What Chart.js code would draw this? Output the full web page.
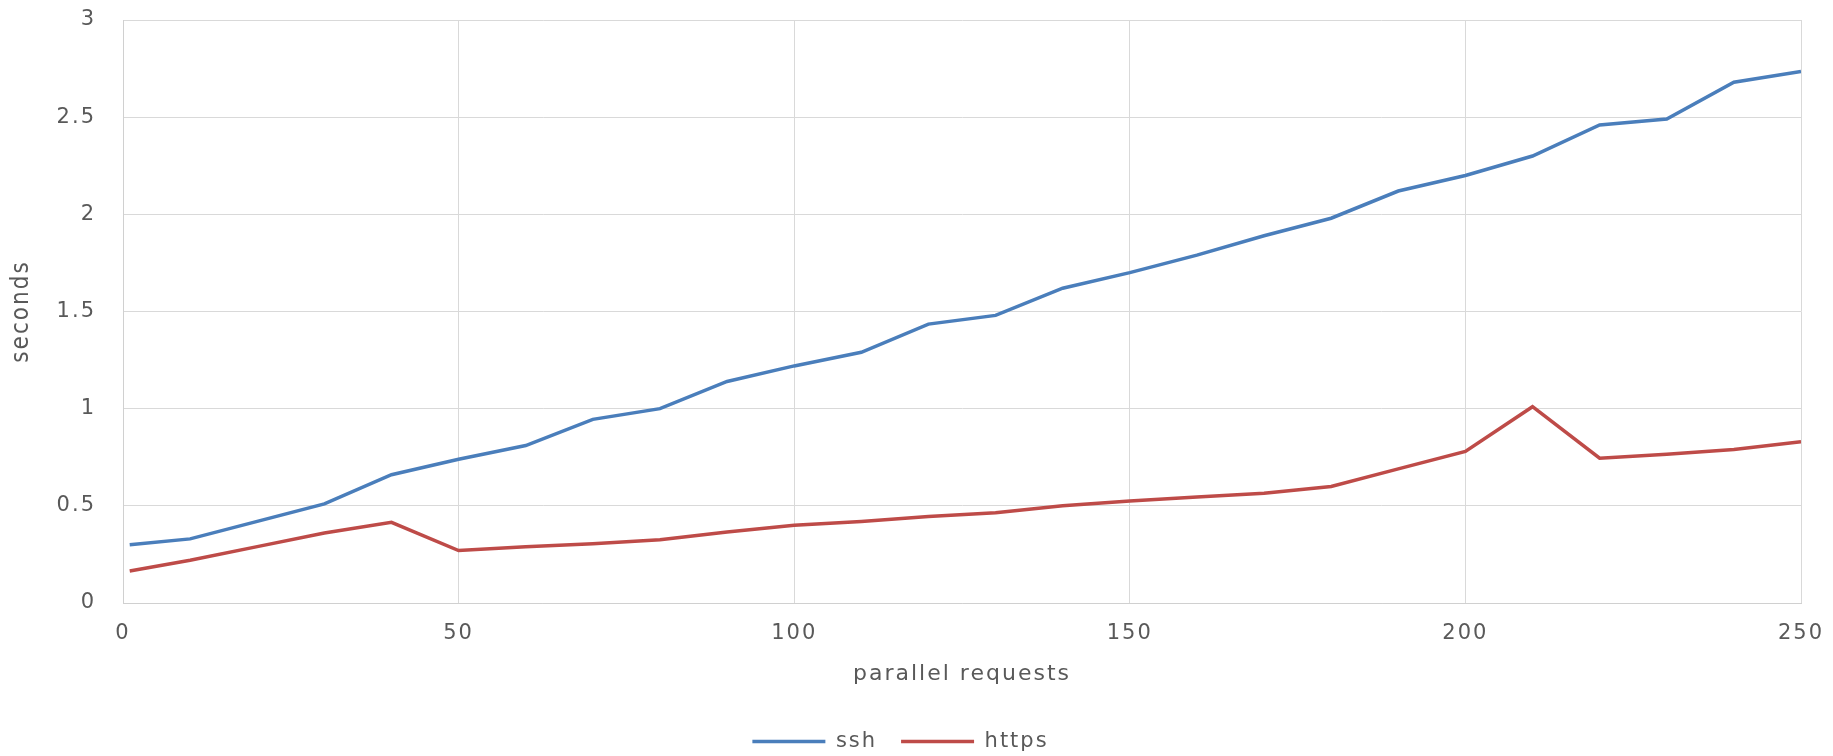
<!DOCTYPE html>
<html>
<head>
<meta charset="utf-8">
<script src="https://cdn.jsdelivr.net/npm/chart.js@4"></script>
<style>
  body { margin: 0; background: #fff; }
</style>
</head>
<body>
<canvas id="graficoTiempos" width="1833" height="756"></canvas>
<script>
const ctxTiempos = 'graficoTiempos';

var xValues = [1, 10, 20, 30, 40, 50, 60, 70, 80, 90, 100, 110, 120, 130, 140, 150, 160, 170, 180, 190, 200, 210, 220, 230, 240, 250];
var sshValues = [0.30, 0.33, 0.42, 0.51, 0.66, 0.74, 0.81, 0.945, 1.0, 1.14, 1.22, 1.29, 1.435, 1.48, 1.62, 1.70, 1.79, 1.89, 1.98, 2.12, 2.20, 2.30, 2.46, 2.49, 2.68, 2.735];
var httpsValues = [0.165, 0.22, 0.29, 0.36, 0.415, 0.27, 0.29, 0.305, 0.325, 0.365, 0.40, 0.42, 0.445, 0.465, 0.50, 0.525, 0.545, 0.565, 0.60, 0.69, 0.78, 1.01, 0.745, 0.765, 0.79, 0.83];
var seriesNames = ["ssh", "https"];

const gris = '#595959';

// the excel text is a bit wide, spread letters a little
const espaciado = {
    id: 'espaciado',
    beforeUpdate(chart) { chart.ctx.letterSpacing = '2px'; },
    beforeDraw(chart) { chart.ctx.letterSpacing = '2px'; }
};

const graficoTiempos = new Chart(ctxTiempos, {
    type: 'line',
    data: {
        datasets: [{
            label: seriesNames[0],
            data: xValues.map((x, i) => ({ x: x, y: sshValues[i] })),
            borderColor: '#4A7EBB',
            backgroundColor: '#4A7EBB',
            borderWidth: 3.5,
            pointRadius: 0,
            tension: 0
        }, {
            label: seriesNames[1],
            data: xValues.map((x, i) => ({ x: x, y: httpsValues[i] })),
            borderColor: '#BE4B48',
            backgroundColor: '#BE4B48',
            borderWidth: 3.5,
            pointRadius: 0,
            tension: 0
        }]
    },
    options: {
        responsive: false,
        animation: false,
        layout: {
            padding: { left: 0, right: 32, top: 20, bottom: -6 }
        },
        scales: {
            x: {
                type: 'linear',
                min: 0,
                max: 250,
                ticks: {
                    stepSize: 50,
                    padding: 18,
                    color: gris,
                    font: { family: 'DejaVu Sans', size: 21 }
                },
                grid: { color: '#D9D9D9', drawTicks: false },
                border: { color: '#D0D0D0' },
                title: {
                    display: true,
                    text: 'parallel requests',
                    color: gris,
                    font: { family: 'DejaVu Sans', size: 22 },
                    padding: { top: 0, bottom: 20 }
                },
                afterFit: function (scale) {
                    scale.height = 104;
                    scale.paddingLeft = 0;
                    scale.paddingRight = 0;
                }
            },
            y: {
                min: 0,
                max: 3,
                ticks: {
                    stepSize: 0.5,
                    padding: 27,
                    color: gris,
                    font: { family: 'DejaVu Sans', size: 21 },
                    callback: function (v) { return String(Number(v.toFixed(1))); }
                },
                grid: { color: '#D9D9D9', drawTicks: false },
                border: { color: '#D0D0D0' },
                title: {
                    display: true,
                    text: 'seconds',
                    color: gris,
                    font: { family: "'Liberation Sans Narrow', 'DejaVu Sans Condensed', 'DejaVu Sans'", size: 24 },
                    padding: { top: 7, bottom: 0 }
                },
                afterFit: function (scale) {
                    scale.width = 123;
                    scale.paddingTop = 0;
                    scale.paddingBottom = 0;
                }
            }
        },
        plugins: {
            legend: {
                position: 'bottom',
                labels: {
                    usePointStyle: true,
                    pointStyle: 'line',
                    pointStyleWidth: 73,
                    padding: 24,
                    color: gris,
                    font: { family: 'DejaVu Sans', size: 21 }
                }
            },
            tooltip: { enabled: false }
        }
    },
    plugins: [espaciado]
});
</script>
</body>
</html>
